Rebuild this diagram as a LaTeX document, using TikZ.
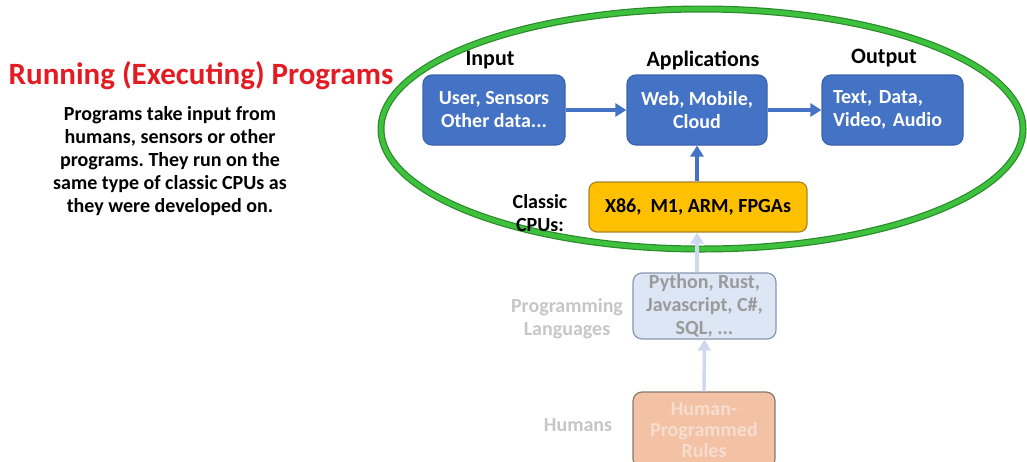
\documentclass[tikz,border=0pt]{standalone}
\usepackage{fontspec}
\setmainfont{Carlito}
\usetikzlibrary{arrows.meta}
\frenchspacing

\definecolor{titlered}{HTML}{E31B23}
\definecolor{appblue}{HTML}{4472C4}
\definecolor{appblueedge}{HTML}{3A64B0}
\definecolor{cpuorange}{HTML}{FFC000}
\definecolor{cpuedge}{HTML}{A8842C}
\definecolor{ringgreen}{HTML}{3EC23E}
\definecolor{ringdark}{HTML}{2A8A2A}
\definecolor{langfill}{HTML}{DCE6F4}
\definecolor{langedge}{HTML}{8797B0}
\definecolor{langtext}{HTML}{9A9A9A}
\definecolor{fadelabel}{HTML}{C6C6C6}
\definecolor{humanfill}{HTML}{F3C1A3}
\definecolor{humanedge}{HTML}{857872}
\definecolor{humantext}{HTML}{F7DDD0}
\definecolor{fadearrow}{HTML}{CFD8EE}

\tikzset{
  boxfont/.style={font=\fontsize{20}{23}\selectfont\bfseries},
  bluebox/.style={boxfont, draw=appblueedge, line width=1.2pt, fill=appblue,
    text=white, rounded corners=9pt, align=center, inner sep=0pt,
    minimum height=70pt},
  cpubox/.style={boxfont, draw=cpuedge, line width=1.2pt, fill=cpuorange,
    text=black, rounded corners=8pt, inner sep=0pt, minimum height=50pt,
    minimum width=218pt},
  langbox/.style={boxfont, draw=langedge, line width=1.2pt, fill=langfill,
    text=langtext, rounded corners=9pt, align=center, inner sep=0pt,
    minimum height=66pt, minimum width=143pt},
  humanbox/.style={boxfont, draw=humanedge, line width=1.2pt, fill=humanfill,
    text=humantext, rounded corners=9pt, align=center, inner sep=0pt,
    minimum height=76pt, minimum width=142pt},
  heading/.style={font=\fontsize{22}{26}\selectfont\bfseries, text=black},
  sidelabel/.style={font=\fontsize{20}{23}\selectfont\bfseries, align=center},
  flow/.style={draw=appblue, line width=3.4pt,
    -{Triangle[length=11pt,width=13pt]}},
  fadeflow/.style={draw=fadearrow, line width=3.4pt,
    -{Triangle[length=11pt,width=13pt]}},
}

\begin{document}
\begin{tikzpicture}[x=1pt,y=-1pt]
\useasboundingbox (0,0) rectangle (1027,461);
\clip (0,0) rectangle (1027,461);

% ring around the run-time part of the pipeline
\draw[ringdark, line width=7pt] (702,129) ellipse [x radius=321, y radius=120];
\draw[ringgreen, line width=4.6pt] (702,129) ellipse [x radius=321, y radius=120];

% left-hand explanation
\node[font=\fontsize{31}{36}\selectfont\bfseries, text=titlered] (title)
  at (201,76) {Running (Executing) Programs};
\node[font=\fontsize{20}{23}\selectfont\bfseries, align=center] (desc)
  at (170,161) {Programs take input from\\humans, sensors or other\\programs. They run on the\\same type of classic CPUs as\\they were developed on.};

% run-time pipeline
\node[bluebox, minimum width=142pt] (in) at (494,110) {User, Sensors\\Other data...};
\node[bluebox, minimum width=140pt] (app) at (697,110) {Web, Mobile,\\Cloud};
\node[bluebox, align=left, text width=119pt, inner xsep=11pt] (out)
  at (892.5,110) {Text, Data,\\Video, Audio};

\node[heading] (inlbl) at (490,60) {Input};
\node[heading] (applbl) at (703,60) {Applications};
\node[heading] (outlbl) at (884,58) {Output};

\node[cpubox] (cpu) at (698,207) {X86,\ \ M1, ARM, FPGAs};
\node[sidelabel] (cpulbl) at (540,213) {Classic\\CPUs:};

% faded development stages
\node[langbox] (lang) at (704.5,306) {Python, Rust,\\Javascript, C\#,\\SQL, ...};
\node[sidelabel, text=fadelabel] (langlbl) at (567,319) {Programming\\Languages};
\node[humanbox, font=\fontsize{20}{21}\selectfont\bfseries] (human)
  at (704,430) {Human-\\Programmed\\Rules};
\node[sidelabel, text=fadelabel] (humanlbl) at (578,425) {Humans};

% connectors
\draw[flow] (in) -- (app);
\draw[flow] (app) -- (out);
\draw[flow] (cpu.north -| app) -- (app.south);
\draw[fadeflow] (lang.north -| app) -- (cpu.south -| app);
\draw[fadeflow] (human.north) -- (lang.south);
\end{tikzpicture}
\end{document}
